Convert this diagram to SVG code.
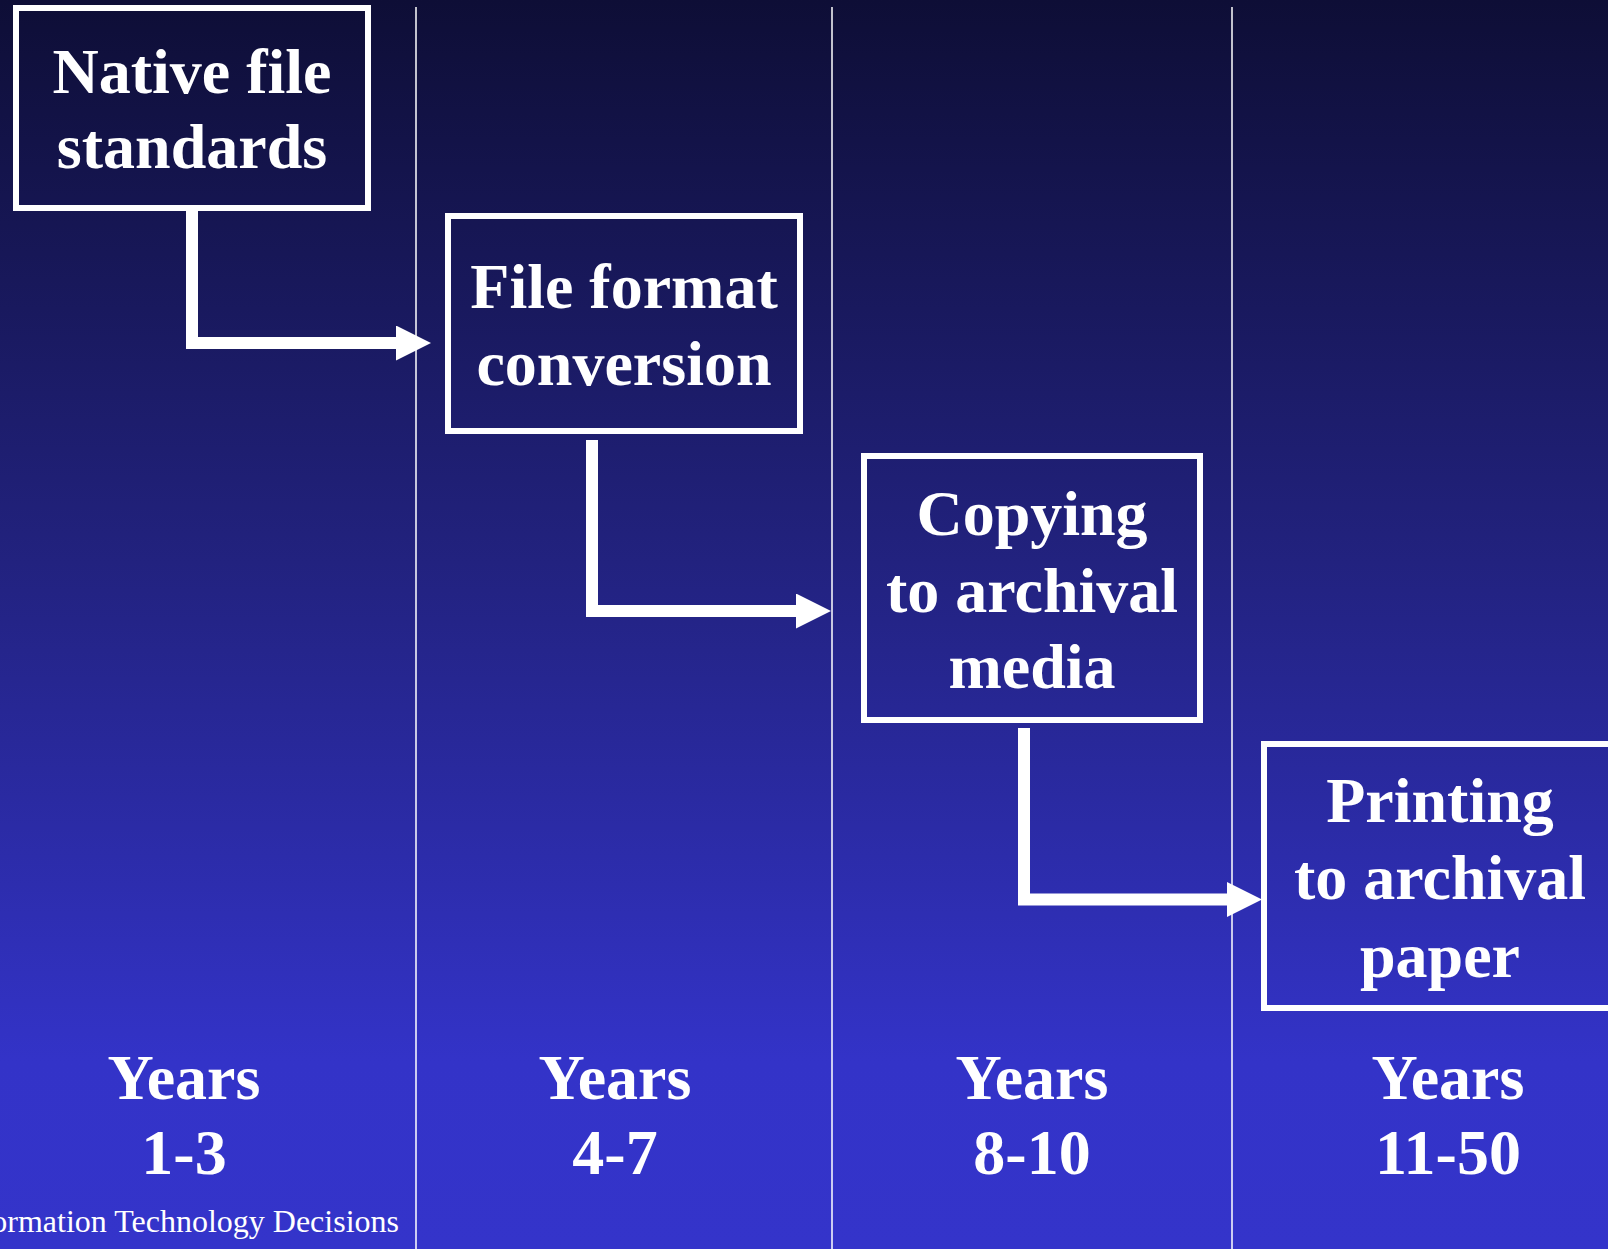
<svg xmlns="http://www.w3.org/2000/svg" width="1608" height="1249" viewBox="0 0 1608 1249">
  <defs>
    <linearGradient id="bg" x1="0" y1="0" x2="0" y2="1249" gradientUnits="userSpaceOnUse">
      <stop offset="0" stop-color="#0e0e36"/>
      <stop offset="0.45" stop-color="#22227f"/>
      <stop offset="0.85" stop-color="#3333c8"/>
      <stop offset="1" stop-color="#3434ca"/>
    </linearGradient>
    <marker id="arrow" markerUnits="userSpaceOnUse" markerWidth="40" markerHeight="36" refX="2" refY="17.5" orient="auto" viewBox="0 0 40 36">
      <path d="M0,0 L35,17.5 L0,35 z" fill="#ffffff"/>
    </marker>
    <style>
      .box { fill: none; stroke: #ffffff; stroke-width: 6; }
      .lbl { font-family: "Liberation Serif", "Times New Roman", serif; font-weight: bold; font-size: 64px; fill: #ffffff; text-anchor: middle; }
      .conn { fill: none; stroke: #ffffff; stroke-width: 12; stroke-linejoin: miter; stroke-linecap: butt; }
      .div { stroke: #ffffff; stroke-width: 1.5; }
      .foot { font-family: "Liberation Serif", "Times New Roman", serif; font-size: 32px; fill: #ffffff; text-anchor: end; }
    </style>
  </defs>
  <rect x="0" y="0" width="1608" height="1249" fill="url(#bg)"/>

  <g id="dividers">
    <line class="div" x1="416" y1="7" x2="416" y2="1249"/>
    <line class="div" x1="832" y1="7" x2="832" y2="1249"/>
    <line class="div" x1="1232" y1="7" x2="1232" y2="1249"/>
  </g>

  <g id="connectors">
    <path class="conn" d="M192,211 V343 H398" marker-end="url(#arrow)"/>
    <path class="conn" d="M592,440 V611 H798" marker-end="url(#arrow)"/>
    <path class="conn" d="M1024,728 V899.5 H1229" marker-end="url(#arrow)"/>
  </g>

  <g id="node-native">
    <rect class="box" x="16" y="8" width="352" height="200"/>
    <text class="lbl" x="192" y="93">Native file</text>
    <text class="lbl" x="192" y="168">standards</text>
  </g>

  <g id="node-conversion">
    <rect class="box" x="448" y="216" width="352" height="215"/>
    <text class="lbl" x="624" y="308">File format</text>
    <text class="lbl" x="624" y="385">conversion</text>
  </g>

  <g id="node-copying">
    <rect class="box" x="864" y="456" width="336" height="264"/>
    <text class="lbl" x="1032" y="535">Copying</text>
    <text class="lbl" x="1032" y="612">to archival</text>
    <text class="lbl" x="1032" y="688">media</text>
  </g>

  <g id="node-printing">
    <rect class="box" x="1264" y="744" width="360" height="264"/>
    <text class="lbl" x="1440" y="822">Printing</text>
    <text class="lbl" x="1440" y="899">to archival</text>
    <text class="lbl" x="1440" y="977">paper</text>
  </g>

  <g id="years">
    <text class="lbl" x="184" y="1099">Years</text>
    <text class="lbl" x="184" y="1174">1-3</text>
    <text class="lbl" x="615" y="1099">Years</text>
    <text class="lbl" x="615" y="1174">4-7</text>
    <text class="lbl" x="1032" y="1099">Years</text>
    <text class="lbl" x="1032" y="1174">8-10</text>
    <text class="lbl" x="1448" y="1099">Years</text>
    <text class="lbl" x="1448" y="1174">11-50</text>
  </g>

  <text class="foot" x="399" y="1232">ormation Technology Decisions</text>
</svg>
